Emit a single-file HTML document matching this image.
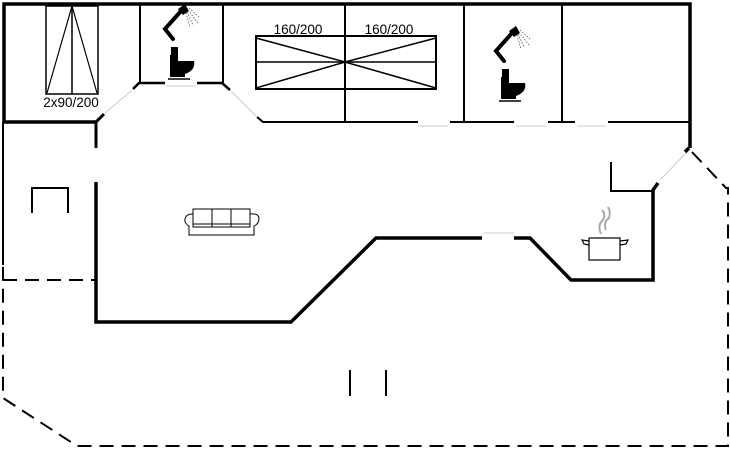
<!DOCTYPE html>
<html><head><style>html,body{margin:0;padding:0;background:#fff;}svg{display:block;}</style></head>
<body>
<svg width="730" height="450" viewBox="0 0 730 450" xmlns="http://www.w3.org/2000/svg" font-family="Liberation Sans, sans-serif">
<defs>
<g id="wc">
  <path d="M1,32 L-7,22 L9,4" fill="none" stroke="#000" stroke-width="4" stroke-linecap="round"/>
  <path d="M6,2 L13,-3 L17,4 L11,8 Z" fill="#000"/>
  <g stroke="#555" stroke-width="0.8" stroke-dasharray="1.5,1.5">
    <line x1="15" y1="5" x2="21" y2="18"/><line x1="16" y1="3" x2="26" y2="16"/><line x1="14" y1="6" x2="18" y2="20"/><line x1="17" y1="1" x2="27" y2="10"/>
  </g>
  <path d="M-1,40 L6,40 L6,48 L-1,48 Z" fill="#000"/>
  <path d="M-2,48 L6,48 L6,54 L22,54 Q24,63 13,67 L13,70 L-2,70 Z" fill="#000"/>
  <line x1="-4" y1="72" x2="18" y2="72" stroke="#000" stroke-width="1.5"/>
</g>
</defs>
<g fill="none" stroke="#000" stroke-linecap="butt">
  <path d="M4,122 L4,4 L690,4 L690,148" stroke-width="3.5"/>
  <line x1="3" y1="122" x2="3" y2="265" stroke-width="2"/>
  <line x1="4" y1="122" x2="96" y2="122" stroke-width="3.5"/>
  <line x1="140" y1="4" x2="140" y2="83" stroke-width="2"/>
  <line x1="223" y1="4" x2="223" y2="83" stroke-width="2"/>
  <line x1="345" y1="4" x2="345" y2="122" stroke-width="2"/>
  <line x1="464" y1="4" x2="464" y2="122" stroke-width="2"/>
  <line x1="562" y1="4" x2="562" y2="122" stroke-width="2"/>
  <path d="M96,148 L96,122 L104,114" stroke-width="3"/>
  <path d="M133,89 L139,83 L165,83" stroke-width="2.5"/>
  <path d="M197,83 L222,83 L230,90" stroke-width="2.5"/>
  <path d="M257,117 L263,122 L418,122" stroke-width="2"/>
  <line x1="450" y1="122" x2="514" y2="122" stroke-width="2"/>
  <line x1="548" y1="122" x2="575" y2="122" stroke-width="2"/>
  <line x1="608" y1="122" x2="689" y2="122" stroke-width="2"/>
  <g stroke="#ccc" stroke-width="1">
    <line x1="105" y1="113" x2="132" y2="90"/><line x1="231" y1="91" x2="256" y2="116"/>
    <line x1="166" y1="86" x2="196" y2="86"/><line x1="418" y1="126" x2="448" y2="126"/>
    <line x1="516" y1="126" x2="546" y2="126"/><line x1="577" y1="126" x2="606" y2="126"/>
    <line x1="484" y1="233" x2="514" y2="233"/><line x1="660" y1="180" x2="686" y2="153"/>
  </g>
  <path d="M96,182 L96,322 L291,322 L376,238 L482,238" stroke-width="3.5"/>
  <path d="M514,238 L530,238 L571,280 L653,280 L653,190 L658,183" stroke-width="3.5"/>
  <path d="M689,148 L685,152" stroke-width="3.5"/>
  <path d="M611,162 L611,191 L652,191" stroke-width="2"/>
  <path d="M32,213 L32,188 L68,188 L68,213" stroke-width="2"/>
  <line x1="350" y1="370" x2="350" y2="396" stroke-width="2"/>
  <line x1="386" y1="370" x2="386" y2="396" stroke-width="2"/>
  <g stroke-width="2" stroke-dasharray="14,8">
    <path d="M692,152 L726,188 L728,188 L728,446 L83,446 L77,446 L3,398 L3,265"/>
    <line x1="3" y1="280" x2="96" y2="280"/>
  </g>
  <rect x="46" y="6" width="52" height="88" stroke-width="1.5"/>
  <line x1="72" y1="6" x2="72" y2="94" stroke-width="1.5"/>
  <path d="M47,93 L72,6 L97,93" stroke-width="1.2"/>
  <rect x="256" y="36" width="180" height="53" stroke-width="2"/>
  <line x1="256" y1="62" x2="436" y2="62" stroke-width="1.5"/>
  <path d="M256,38 L345,62 L436,38 M256,88 L345,62 L436,88" stroke-width="1.5"/>
  <g stroke-width="1">
    <rect x="193" y="209" width="57" height="18"/>
    <line x1="212" y1="209" x2="212" y2="227"/><line x1="231" y1="209" x2="231" y2="227"/>
    <line x1="193" y1="224" x2="250" y2="224"/>
    <path d="M193,214 Q184,214 185,222 Q188,226 189,226 L189,235 L254,235 L254,226 Q259,224 259,218 Q258,213 250,214"/>
  </g>
  <g stroke-width="1.2">
    <rect x="589" y="238" width="31" height="22"/>
    <path d="M589,241 L582,240 L584,244 L589,245 M620,241 L628,240 L626,244 L620,245"/>
    <path d="M601,234 Q597,225 603,220 Q606,214 602,210 M606,230 Q603,222 609,218 Q611,212 608,207" stroke="#aaa" stroke-width="2"/>
  </g>
</g>
<use href="#wc" transform="translate(172,7)"/>
<use href="#wc" transform="translate(503,29)"/>
<g font-size="13.5" fill="#000" text-anchor="middle">
  <text x="71" y="107">2x90/200</text>
  <text x="298" y="34">160/200</text>
  <text x="389" y="34">160/200</text>
</g>
</svg>
</body></html>
